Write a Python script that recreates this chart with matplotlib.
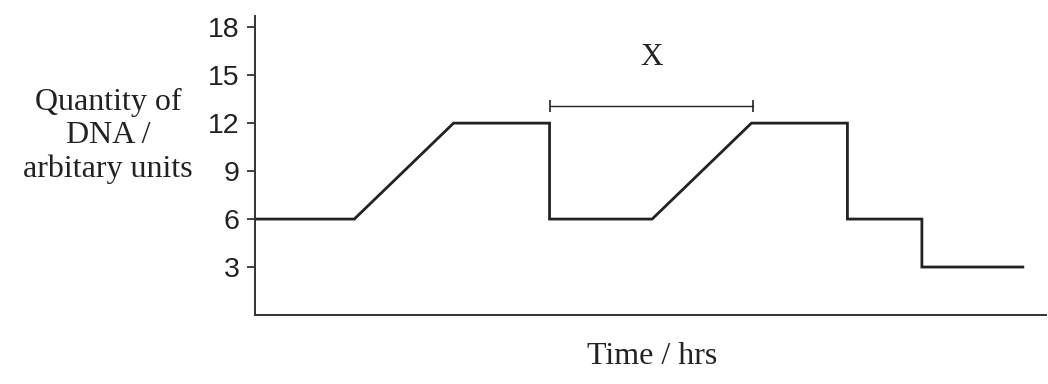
import matplotlib
matplotlib.use("Agg")
import matplotlib.pyplot as plt

# Data (time in hours, DNA quantity in arbitrary units)
time_hrs = [0, 3, 6, 8.9, 8.9, 12, 15, 17.9, 17.9, 20.15, 20.15, 23.2]
dna_qty = [6, 6, 12, 12, 6, 6, 12, 12, 6, 6, 3, 3]
y_ticks = [3, 6, 9, 12, 15, 18]
x_bar_start, x_bar_end, x_bar_level = 8.9, 15.05, 13.05
x_label_pos = (11.98, 16.1)

fig = plt.figure(figsize=(10.48, 3.84), dpi=100)
ax = fig.add_axes([255/1048, 1-315/384, (1046-255)/1048, (315-16)/384])

line_col = "#222222"
ax.plot(time_hrs, dna_qty, color=line_col, lw=2.0, solid_joinstyle="miter")

# X interval bar
ax.plot([x_bar_start, x_bar_end], [x_bar_level, x_bar_level], color=line_col, lw=1.0)
ax.plot([x_bar_start, x_bar_end], [x_bar_level, x_bar_level], ls="none",
        marker="|", markersize=8, markeredgewidth=1.2, color=line_col)
ax.text(x_label_pos[0], x_label_pos[1], "X", ha="center", va="center",
        fontfamily="Liberation Serif", fontsize=22.5, color="#222222")

ax.set_xlim(0, 23.9)
ax.set_ylim(0, 18.7)
ax.set_yticks(y_ticks)
ax.set_yticklabels([str(t) for t in y_ticks], fontfamily="Liberation Sans", fontsize=20.5, color="#222222")
ax.set_xticks([])
ax.tick_params(axis="y", direction="out", length=6, width=1.2, pad=5, colors="#222222")
for s in ["top", "right"]:
    ax.spines[s].set_visible(False)
for s in ["left", "bottom"]:
    ax.spines[s].set_linewidth(1.4)
    ax.spines[s].set_color("#333333")

fig.text(108/1048, 1-136/384, "Quantity of\nDNA /\narbitary units", ha="center", va="center",
         multialignment="center", fontfamily="Liberation Serif", fontsize=23,
         linespacing=1.2, color="#222222")
fig.text(652/1048, 1-356/384, "Time / hrs", ha="center", va="center",
         fontfamily="Liberation Serif", fontsize=23, color="#222222")

fig.savefig("out.png", dpi=100)
